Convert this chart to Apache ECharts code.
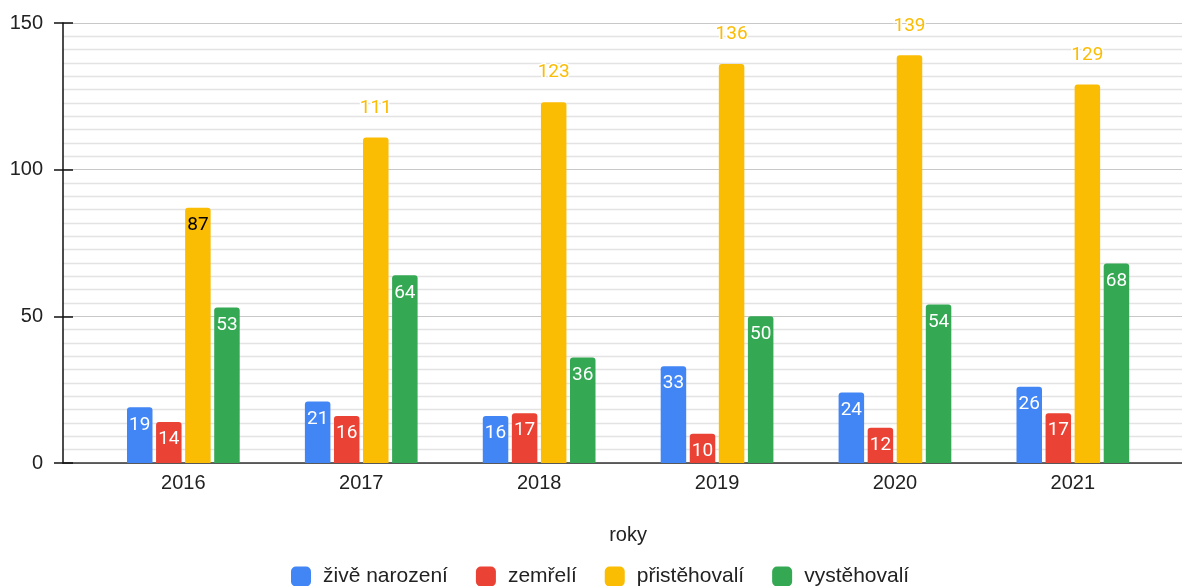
<!DOCTYPE html>
<html>
<head>
<meta charset="utf-8">
<script src="https://cdn.jsdelivr.net/npm/echarts@6/dist/echarts.min.js"></script>
<style>
html,body{margin:0;padding:0;background:#fff;}
#chart{width:1182px;height:586px;}
</style>
</head>
<body>
<div id="chart"></div>
<script>
const years = ['2016','2017','2018','2019','2020','2021'];
const zive = [19, 21, 16, 33, 24, 26];
const zemreli = [14, 16, 17, 10, 12, 17];
const pristehovali = [87, 111, 123, 136, 139, 129];
const vystehovali = [53, 64, 36, 50, 54, 68];
const seriesNames = ['živě narození', 'zemřelí', 'přistěhovalí', 'vystěhovalí'];
const yTicks = [0, 50, 100, 150];

const colors = ['#4285F4', '#EA4335', '#FBBC04', '#34A853'];
const axisFont = 'Liberation Sans, Arial, sans-serif';
const labelFont = 'Roboto, sans-serif';

const insideLabel = {
  show: true, position: 'insideTop', distance: 8,
  color: '#fff', fontFamily: labelFont, fontSize: 19
};

function mkSeries(name, vals, idx) {
  return {
    name: name, type: 'bar', xAxisIndex: 1, yAxisIndex: 2,
    barWidth: 25.5, barGap: '14%',
    itemStyle: { color: colors[idx], borderRadius: [3, 3, 0, 0] },
    label: insideLabel,
    data: vals.map(v => {
      if (idx === 2) {
        if (v < 100) {
          return { value: v, label: { show: true, position: 'insideTop', distance: 8, color: '#000', fontFamily: labelFont, fontSize: 19 } };
        }
        return { value: v, label: { show: true, position: 'top', distance: 20, color: '#FBBC04', fontFamily: labelFont, fontSize: 19, textBorderColor: '#fff', textBorderWidth: 3 } };
      }
      return v;
    })
  };
}

const chart = echarts.init(document.getElementById('chart'), null, { renderer: 'canvas' });
chart.setOption({
  animation: false,
  backgroundColor: '#fff',
  color: colors,
  legend: {
    left: 291, top: 566, padding: 0,
    itemWidth: 20, itemHeight: 20, itemGap: 28,
    icon: 'roundRect',
    textStyle: { fontFamily: axisFont, fontSize: 21, color: '#222', padding: [2, 0, 0, 7] },
    data: seriesNames
  },
  grid: [
    { left: 63, right: 0, top: 23, bottom: 123 },
    { left: 94.4, width: 1067.4, top: 23, bottom: 123 }
  ],
  xAxis: [
    {
      gridIndex: 0, type: 'value', min: 0, max: 1,
      axisLine: { show: true, lineStyle: { color: '#333', width: 1.5 } },
      axisTick: { show: false }, axisLabel: { show: false }, splitLine: { show: false }
    },
    {
      gridIndex: 1, type: 'category', data: years, boundaryGap: true,
      axisLine: { show: false }, axisTick: { show: false },
      axisLabel: { fontFamily: axisFont, fontSize: 20, color: '#222', margin: 10 },
      name: 'roky', nameLocation: 'middle', nameGap: 62,
      nameTextStyle: { fontFamily: axisFont, fontSize: 20, color: '#222' }
    }
  ],
  yAxis: [
    {
      gridIndex: 0, type: 'value', position: 'left', min: 0, max: 150, interval: 50,
      axisLine: { show: true, lineStyle: { color: '#111', width: 1.5 } },
      axisTick: { show: true, length: 9, lineStyle: { color: '#111', width: 1.5 } },
      axisLabel: { fontFamily: axisFont, fontSize: 20, color: '#222', margin: 20,
        formatter: v => yTicks.includes(v) ? String(v) : '' },
      splitLine: { show: true, lineStyle: { color: '#c8c8c8', width: 1.2 } },
      minorTick: { show: false, splitNumber: 11 },
      minorSplitLine: { show: true, lineStyle: { color: '#e3e3e3', width: 1.3 } }
    },
    {
      gridIndex: 0, type: 'value', position: 'left', offset: 0, min: 0, max: 150, interval: 50,
      axisLine: { show: false },
      axisTick: { show: true, inside: true, length: 10, lineStyle: { color: '#111', width: 1.5 } },
      axisLabel: { show: false }, splitLine: { show: false }
    },
    {
      gridIndex: 1, type: 'value', min: 0, max: 150, show: false
    }
  ],
  series: [
    mkSeries(seriesNames[0], zive, 0),
    mkSeries(seriesNames[1], zemreli, 1),
    mkSeries(seriesNames[2], pristehovali, 2),
    mkSeries(seriesNames[3], vystehovali, 3)
  ]
});
</script>
</body>
</html>
